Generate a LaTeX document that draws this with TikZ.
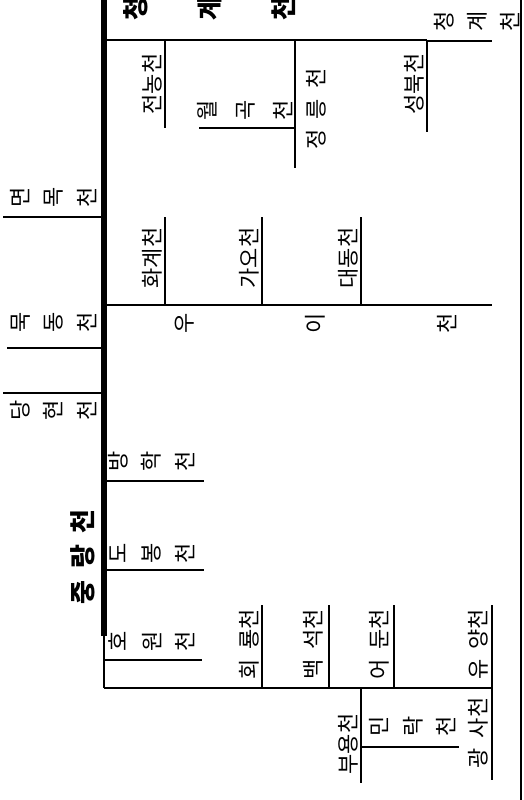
\documentclass[tikz,border=0pt]{standalone}
\usepackage{fontspec}
\newfontfamily\kr{Noto Sans CJK KR}
\tikzset{
  stream/.style={line width=1pt},
  mainstream/.style={line width=3pt},
  lbl/.style={rotate=90, inner sep=0pt, font=\kr\fontsize{11}{13}\selectfont},
  stk/.style={rotate=90, inner sep=0pt, align=center, font=\kr\fontsize{11}{#1}\selectfont},
  biglbl/.style={rotate=90, inner sep=0pt, align=center, font=\kr\bfseries\fontsize{13}{#1}\selectfont},
}
\begin{document}
\begin{tikzpicture}[x=0.5pt, y=-0.5pt]
  \useasboundingbox (0,0) rectangle (524,800);
  % main river
  \coordinate (jr0) at (104,0);
  \coordinate (jr1) at (104,636);
  \coordinate (jr2) at (104,688);
  \coordinate (bd0) at (521,0);
  \coordinate (bd1) at (521,800);
  % cheonggyecheon
  \coordinate (cg0) at (104,40);
  \coordinate (cg1) at (165,40);
  \coordinate (cg2) at (295,40);
  \coordinate (cg3) at (427,40);
  \coordinate (cg3b) at (427,41);
  \coordinate (cg4) at (492,41);
  \coordinate (jn) at (165,128);
  \coordinate (jrg) at (295,168);
  \coordinate (wg0) at (295,128);
  \coordinate (wg1) at (199,128);
  \coordinate (sb) at (427,132);
  % left side
  \coordinate (mm0) at (104,217);
  \coordinate (mm1) at (3,217);
  \coordinate (md0) at (104,348);
  \coordinate (md1) at (7,348);
  \coordinate (dh0) at (104,393);
  \coordinate (dh1) at (3,393);
  % uicheon
  \coordinate (ui0) at (104,305);
  \coordinate (ui1) at (165,305);
  \coordinate (ui2) at (262,305);
  \coordinate (ui3) at (361,305);
  \coordinate (ui4) at (492,305);
  \coordinate (hg) at (165,217);
  \coordinate (go) at (262,217);
  \coordinate (dd) at (361,217);
  % right side
  \coordinate (bh0) at (104,481);
  \coordinate (bh1) at (204,481);
  \coordinate (db0) at (104,570);
  \coordinate (db1) at (204,570);
  \coordinate (hw0) at (104,660);
  \coordinate (hw1) at (202,660);
  % bottom branch
  \coordinate (br1) at (262,688);
  \coordinate (br2) at (329,688);
  \coordinate (br3) at (361,688);
  \coordinate (br4) at (394,688);
  \coordinate (br5) at (492,688);
  \coordinate (hr) at (262,605);
  \coordinate (bs) at (329,605);
  \coordinate (ad) at (394,605);
  \coordinate (yy) at (492,605);
  \coordinate (by) at (361,783);
  \coordinate (mr0) at (361,747);
  \coordinate (mr1) at (459,747);
  \coordinate (gs) at (492,780);

  \draw[mainstream] (jr0) -- (jr1);
  \draw[stream] (jr1) -- (jr2);
  \draw[stream] (bd0) -- (bd1);
  \draw[stream] (cg0) -- (cg3);
  \draw[stream] (cg3b) -- (cg4);
  \draw[stream] (cg1) -- (jn);
  \draw[stream] (cg2) -- (jrg);
  \draw[stream] (wg0) -- (wg1);
  \draw[stream] (cg3) -- (sb);
  \draw[stream] (mm0) -- (mm1);
  \draw[stream] (md0) -- (md1);
  \draw[stream] (dh0) -- (dh1);
  \draw[stream] (ui0) -- (ui4);
  \draw[stream] (ui1) -- (hg);
  \draw[stream] (ui2) -- (go);
  \draw[stream] (ui3) -- (dd);
  \draw[stream] (bh0) -- (bh1);
  \draw[stream] (db0) -- (db1);
  \draw[stream] (hw0) -- (hw1);
  \draw[stream] (jr2) -- (br5);
  \draw[stream] (br1) -- (hr);
  \draw[stream] (br2) -- (bs);
  \draw[stream] (br4) -- (ad);
  \draw[stream] (br5) -- (yy);
  \draw[stream] (br3) -- (by);
  \draw[stream] (mr0) -- (mr1);
  \draw[stream] (br5) -- (gs);

  % labels
  \node[biglbl=37pt] (cgbig) at (210,9) {청\\계\\천};
  \node[stk=16.5pt] (cgsmall) at (477,21.5) {청\\계\\천};
  \node[lbl] (jeonnong) at (152,84) {전농천};
  \node[stk=19pt] (wolgok) at (245,110) {월\\곡\\천};
  \node[lbl] (jeongneung) at (316,109) {정\hspace{5pt}릉\hspace{5pt}천};
  \node[lbl] (seongbuk) at (414,84) {성북천};
  \node[stk=16.75pt] (myeonmok) at (53.5,197.5) {면\\목\\천};
  \node[lbl] (hwagye) at (152,258) {화계천};
  \node[lbl] (gao) at (249,258) {가오천};
  \node[lbl] (daedong) at (348,258) {대동천};
  \node[stk=65.75pt] (ui) at (315.5,323) {우\\이\\천};
  \node[stk=16.75pt] (mukdong) at (53.5,322.5) {묵\\동\\천};
  \node[stk=16.75pt] (danghyeon) at (53.5,410) {당\\현\\천};
  \node[stk=16.75pt] (banghak) at (151.5,461) {방\\학\\천};
  \node[stk=16.75pt] (dobong) at (152,553.5) {도\\봉\\천};
  \node[lbl, font=\kr\bfseries\fontsize{13}{15}\selectfont] (jungnang) at (83,557) {중\hspace{6pt}랑\hspace{6pt}천};
  \node[stk=16.75pt] (howon) at (152,641) {호\\원\\천};
  \node[lbl] (hoeryong) at (249,644.5) {회\hspace{5pt}룡천};
  \node[lbl] (baekseok) at (313.5,644.5) {백\hspace{5pt}석천};
  \node[lbl] (eodun) at (379.5,644.5) {어\hspace{5pt}둔천};
  \node[lbl] (yuyang) at (478.5,644.5) {유\hspace{5pt}양천};
  \node[lbl] (buyong) at (348,744) {부용천};
  \node[stk=16.75pt] (minrak) at (413,726) {민\\락\\천};
  \node[lbl] (gwangsa) at (478.5,733) {광\hspace{5pt}사천};
\end{tikzpicture}
\end{document}
